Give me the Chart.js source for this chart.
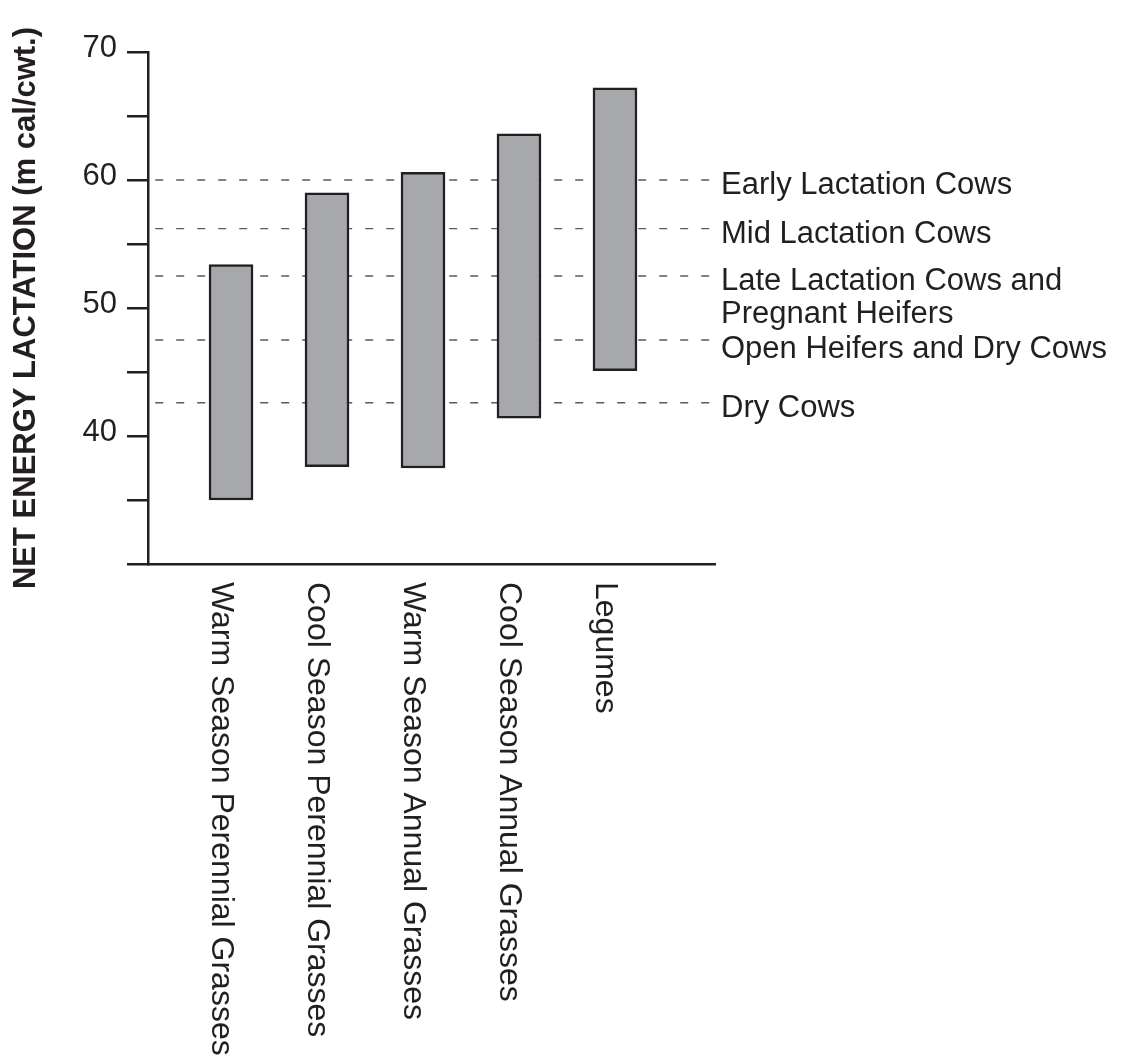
<!DOCTYPE html>
<html>
<head>
<meta charset="utf-8">
<script src="https://cdn.jsdelivr.net/npm/chart.js"></script>
<style>
  html, body { margin: 0; padding: 0; background: #fff; }
  #wrap { width: 1139px; height: 1055px; }
</style>
</head>
<body>
<div id="wrap"><canvas id="chart" width="1139" height="1055"></canvas></div>
<script>
// forage types (x categories)
const categories = [
    'Warm Season Perennial Grasses',
    'Cool Season Perennial Grasses',
    'Warm Season Annual Grasses',
    'Cool Season Annual Grasses',
    'Legumes'
];
// NEL range per forage type (m cal/cwt.)
const lowValues = [35.0, 37.6, 37.5, 41.4, 45.1];
const highValues = [53.4, 59.0, 60.6, 63.6, 67.2];

// animal requirement levels (dashed lines)
const animalLevels = [60, 56.2, 52.5, 47.5, 42.6];
const animalLabels = [
    ['Early Lactation Cows'],
    ['Mid Lactation Cows'],
    ['Late Lactation Cows and', 'Pregnant Heifers'],
    ['Open Heifers and Dry Cows'],
    ['Dry Cows']
];

const yLabelTicks = [40, 50, 60, 70];

const INK = '#231f20';
const FONT = '"Liberation Sans", Arial, Helvetica, sans-serif';

document.addEventListener('DOMContentLoaded', function() {
    const barData = categories.map((c, i) => ({ x: i, y: [lowValues[i], highValues[i]] }));

    const lineSets = animalLevels.map((v, i) => ({
        type: 'line',
        label: animalLabels[i].join(' '),
        data: [{ x: -0.79, y: v }, { x: 4.99, y: v }],
        borderColor: '#5b5b5b',
        borderWidth: 1.4,
        borderDash: [8, 13],
        pointRadius: 0,
        fill: false,
        order: 1
    }));

    // text drawn beside the chart: rotated category names + requirement labels
    const sideText = {
        id: 'sideText',
        afterDraw(chart) {
            const ctx = chart.ctx;
            const xs = chart.scales.x, ys = chart.scales.y;
            ctx.save();
            ctx.fillStyle = INK;
            ctx.textAlign = 'left';
            ctx.textBaseline = 'alphabetic';
            // category labels, rotated clockwise
            ctx.font = '32px ' + FONT;
            categories.forEach((c, i) => {
                ctx.save();
                ctx.translate(xs.getPixelForValue(i) - 19, 582);
                ctx.rotate(Math.PI / 2);
                ctx.fillText(c, 0, 0);
                ctx.restore();
            });
            // requirement labels on the right
            ctx.font = '31px ' + FONT;
            animalLevels.forEach((v, i) => {
                let y = ys.getPixelForValue(v) + (i === 3 ? 18 : 14);
                animalLabels[i].forEach((line, j) => {
                    ctx.fillText(line, chart.chartArea.right + 6, y + j * 33);
                });
            });
            ctx.restore();
        }
    };

    new Chart(document.getElementById('chart').getContext('2d'), {
        type: 'bar',
        data: {
            datasets: [{
                label: 'NEL range',
                data: barData,
                backgroundColor: '#a7a8ab',
                borderColor: INK,
                borderWidth: 2.5,
                borderSkipped: false,
                barThickness: 44,
                order: 0
            }].concat(lineSets)
        },
        options: {
            responsive: false,
            animation: false,
            layout: { padding: { top: 52, right: 424, bottom: 0, left: 0 } },
            plugins: { legend: { display: false }, tooltip: { enabled: false } },
            scales: {
                x: {
                    type: 'linear',
                    offset: false,
                    min: -0.865,
                    max: 5.042,
                    grid: { display: false },
                    ticks: { display: false },
                    border: { display: true, color: INK, width: 2.5 },
                    afterFit: s => { s.height = 491; }
                },
                y: {
                    min: 30,
                    max: 70,
                    grid: { drawOnChartArea: false, drawTicks: true, tickLength: 21, color: INK, lineWidth: 2.5 },
                    border: { display: true, color: INK, width: 2.5 },
                    ticks: {
                        stepSize: 5,
                        padding: 10,
                        labelOffset: -4,
                        color: INK,
                        font: { family: FONT, size: 31 },
                        callback: v => yLabelTicks.includes(v) ? String(v) : ''
                    },
                    title: {
                        display: true,
                        text: 'NET ENERGY LACTATION (m cal/cwt.)',
                        color: INK,
                        font: { family: FONT, size: 31, weight: 'bold' },
                        padding: { top: 8, bottom: 0 }
                    },
                    afterFit: s => { s.width = 148; }
                }
            }
        },
        plugins: [sideText]
    });
});
</script>
</body>
</html>
